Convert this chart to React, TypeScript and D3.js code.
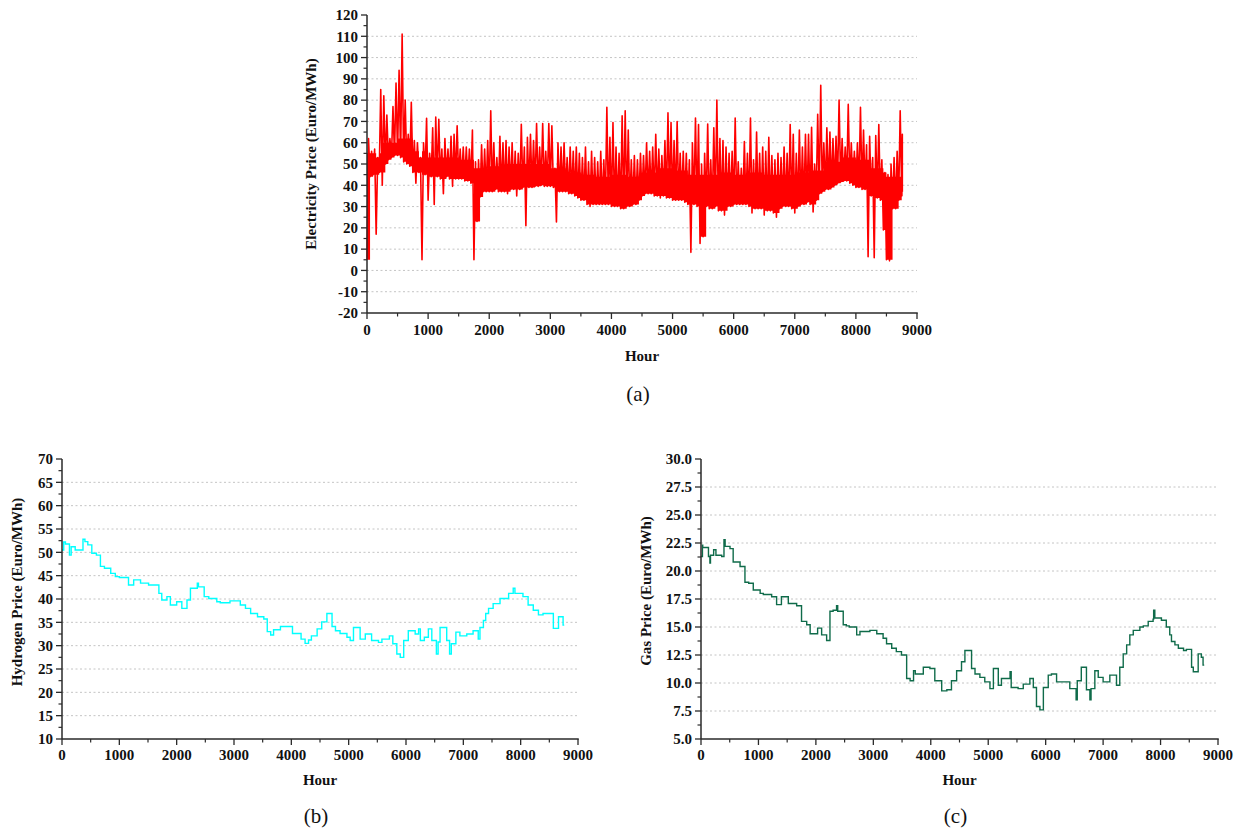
import React from 'react';
import * as d3 from 'd3';

// ---------- tick labels ----------
const hourTicks = [0, 1000, 2000, 3000, 4000, 5000, 6000, 7000, 8000, 9000];
const elecTicks = [-20, -10, 0, 10, 20, 30, 40, 50, 60, 70, 80, 90, 100, 110, 120];
const h2Ticks = [10, 15, 20, 25, 30, 35, 40, 45, 50, 55, 60, 65, 70];
const gasTicks = [5, 7.5, 10, 12.5, 15, 17.5, 20, 22.5, 25, 27.5, 30];

// ---------- electricity price: per 50-hour bin, lowest and highest hourly price ----------
const elecBinHours = d3.range(0, 8760, 50);
const elecLow = [
  5, 44, 45, 17, 46, 40, 50, 52, 53, 54,
  54, 53, 51, 50, 49, 46, 41, 46, 5, 45,
  33, 44, 31, 44, 43, 36, 44, 43, 39.5, 43,
  43, 43, 42, 42, 41, 5, 23, 34.5, 37, 37,
  37, 37, 38, 37, 37, 37, 36, 38, 38, 35,
  38, 39, 21, 39, 39, 39.5, 39.5, 40, 39.5, 39.5,
  39.5, 39, 22.8, 37, 37, 37, 36, 36, 35, 34,
  33, 33, 31, 30, 31, 31, 31, 31, 31, 31,
  30, 30, 30, 29, 29, 30, 30, 31, 31, 33,
  35, 36, 36, 36, 35, 35, 34, 35, 34, 34,
  33, 33, 33, 33, 32, 31, 8.5, 31, 30, 12.7,
  15.8, 30, 29, 29, 30, 28, 28, 26, 30, 30,
  31, 31, 31, 31, 31, 30, 27, 29, 29, 29,
  26, 28, 28, 27, 25, 29, 30, 30, 30, 29,
  27, 30, 31, 31, 32, 31, 27.5, 33, 36, 37,
  38, 38, 39, 40, 41, 41.5, 42, 42, 41, 40,
  39, 39, 38, 38, 6.4, 35, 6, 34, 33, 19,
  5, 4.5, 29, 29, 33, 35,
];
const elecHigh = [
  62, 56, 57, 53, 85, 82, 73, 62, 77, 88,
  94, 111, 80, 64, 79, 61, 60, 53, 60, 71.5,
  55, 67, 72, 71, 57, 62, 57, 63, 64, 68,
  57, 58, 58, 57, 66, 51, 52, 59, 57, 61,
  75, 60, 53, 63, 60, 61, 58, 60, 56, 55,
  68.7, 58, 62.5, 64, 61, 69, 58, 69, 56, 69,
  68, 48, 60, 58, 60, 53, 58, 56, 58, 55,
  53, 58, 51, 56, 53, 51, 56, 52, 76.6, 62.5,
  69.5, 58, 55, 72.6, 75, 66, 52, 54, 52, 55,
  54, 60, 56, 58, 64, 57, 54, 61, 74, 69.5,
  61, 70, 55, 56, 55, 52, 60, 71.6, 68.5, 50,
  55, 68.8, 52, 67, 80, 62, 61, 58, 55, 56,
  71.6, 51, 48, 60.6, 55, 71.6, 52, 65, 55, 58,
  56, 62.5, 54, 52, 55, 53, 58, 55, 68.5, 64,
  55, 66, 58, 64, 64, 67.3, 50, 73.4, 87, 60,
  67, 65, 62, 63, 80, 62, 58, 78, 60, 56,
  60, 76.6, 66, 59, 63, 53, 63.4, 68.5, 52, 46,
  45, 50, 53, 56, 75, 64,
];
// upper edge of the dense daily band, per 250-hour block
const elecBand = [
  55, 60, 62, 56, 53, 53, 52, 48, 49, 50,
  50, 50, 48, 46, 45, 44, 45, 44, 46, 48,
  47, 45, 45, 46, 45, 46, 45, 45, 46, 47,
  51, 53, 52, 48, 44, 46,
];

// ---------- hydrogen price: step changes (hour, value) ----------
const h2Hours = [
  0, 30, 60, 130, 160, 230, 366, 400, 450, 520, 600, 670, 740, 850, 930, 1000, 1160, 1250, 1370, 1510,
  1690, 1740, 1830, 1890, 2000, 2090, 2180, 2240, 2360, 2380, 2480, 2560, 2700, 2760, 2930, 3110, 3200, 3290, 3410, 3520,
  3580, 3640, 3690, 3810, 4020, 4170, 4240, 4300, 4350, 4450, 4530, 4620, 4710, 4770, 4850, 4970, 5026, 5084, 5200, 5290,
  5400, 5520, 5580, 5710, 5770, 5840, 5900, 5960, 6040, 6160, 6220, 6250, 6320, 6390, 6450, 6530, 6560, 6594, 6710, 6760,
  6790, 6870, 6940, 7060, 7170, 7260, 7290, 7350, 7390, 7440, 7520, 7640, 7790, 7870, 7900, 8040, 8130, 8220, 8310, 8390,
  8570, 8660, 8740, 8760,
];
const h2Values = [
  50.5, 52.2, 51.8, 49.4, 51.2, 50.5, 52.8, 52.3, 51.6, 49.8, 49.4, 47, 46.6, 45.5, 44.8, 44.6, 43, 44.1, 43.4, 43,
  41.2, 39.8, 40.5, 38.7, 39.4, 38, 39.8, 42.3, 43.4, 42.6, 40.5, 40.1, 39.4, 39.2, 39.6, 38.7, 38, 36.9, 36.2, 35.7,
  33, 32.3, 33.4, 34.1, 32.6, 31.4, 30.5, 31.2, 32.1, 33.6, 35.1, 36.9, 34.1, 33.2, 32.6, 31.8, 31.1, 33.9, 31.4, 32.5,
  31.1, 30.7, 31.4, 32.1, 30.4, 28.2, 27.5, 31.1, 33.2, 32.5, 33.6, 31.1, 31.8, 33.6, 31.1, 28.2, 30.8, 33.9, 31.1, 28.2,
  30.4, 32.9, 32.1, 32.5, 33.2, 31.4, 33.9, 35.4, 36.9, 38, 39, 40.1, 41.2, 42.3, 41.2, 40.5, 38.7, 37.6, 36.6, 36.9,
  33.7, 36.2, 34.4, 34.4,
];

// ---------- gas price: step changes (hour, value) ----------
const gasHours = [
  0, 25, 30, 130, 155, 165, 220, 260, 360, 400, 420, 505, 560, 680, 765, 830, 910, 1030, 1085, 1230,
  1316, 1400, 1520, 1665, 1750, 1840, 1900, 2030, 2100, 2187, 2245, 2300, 2360, 2380, 2476, 2530, 2580, 2710, 2767, 2940,
  3060, 3170, 3230, 3320, 3400, 3490, 3580, 3640, 3700, 3730, 3870, 3985, 4070, 4190, 4280, 4360, 4450, 4535, 4594, 4710,
  4770, 4855, 4940, 5030, 5090, 5175, 5230, 5380, 5400, 5520, 5610, 5725, 5785, 5840, 5900, 5960, 6045, 6100, 6190, 6420,
  6530, 6550, 6620, 6710, 6770, 6790, 6856, 6915, 7000, 7117, 7233, 7290, 7350, 7410, 7465, 7525, 7640, 7700, 7785, 7870,
  7880, 7900, 8015, 8100, 8160, 8190, 8250, 8310, 8400, 8450, 8540, 8570, 8655, 8710, 8740, 8760,
];
const gasValues = [
  21.3, 22.3, 22.1, 21.3, 20.7, 21.4, 21.9, 21.4, 21.3, 22.8, 22.2, 22, 20.8, 20.4, 19, 18.9, 18.3, 18, 17.9, 17.7,
  17, 17.7, 17.1, 16.9, 15.5, 15.2, 14.4, 14.9, 14.3, 13.8, 16.4, 16.5, 16.9, 16.4, 15.2, 15.1, 15, 14.3, 14.6, 14.7,
  14.4, 14, 13.5, 13.1, 12.8, 12.5, 10.4, 10.2, 11.1, 10.8, 11.4, 11.3, 10.2, 9.3, 9.4, 10.2, 11.1, 11.9, 12.9, 11.3,
  10.8, 10.5, 10.1, 9.5, 11.3, 9.8, 10.4, 11, 9.6, 9.5, 9.9, 10.4, 9.6, 7.9, 7.6, 9.6, 10.7, 10.8, 10.1, 9.5,
  8.5, 10.2, 11.4, 9.4, 8.5, 9.5, 11.1, 10.5, 10.1, 10.7, 9.8, 11.4, 12.6, 13.4, 14.3, 14.7, 15, 15.1, 15.5, 15.7,
  16.5, 15.8, 15.6, 15, 14.3, 13.7, 13.4, 13.1, 12.9, 13, 11.4, 11, 12.6, 12.3, 11.6, 11.6,
];

const FONT = '"Liberation Serif", "Times New Roman", Times, serif';
const AXIS = '#2a2a2a';
const GRID = '#c4c4c4';

type PanelProps = {
  x0: number; x1: number; yTop: number; yBot: number;
  yTicks: number[]; yFmt: (v: number) => string;
  ylabel: string; ylabelX: number; ylabelY: number;
  caption: string; captionY: number;
  titleY: number; tickLabelY: number;
  children: (x: d3.ScaleLinear<number, number>, y: d3.ScaleLinear<number, number>) => React.ReactNode;
};

function Panel(p: PanelProps) {
  const x = d3.scaleLinear().domain([0, 9000]).range([p.x0, p.x1]);
  const yDom = d3.extent(p.yTicks) as [number, number];
  const y = d3.scaleLinear().domain(yDom).range([p.yBot, p.yTop]);
  const yStep = p.yTicks[1] - p.yTicks[0];
  const yMinor = p.yTicks.slice(0, -1).map((t) => t + yStep / 2);
  const xMinor = hourTicks.slice(0, -1).map((t) => t + 500);
  const cx = (p.x0 + p.x1) / 2;
  return (
    <g>
      {p.yTicks.slice(1, -1).map((t) => (
        <line key={'g' + t} x1={p.x0} x2={p.x1} y1={y(t)} y2={y(t)} stroke={GRID} strokeWidth={1} strokeDasharray="2,2.5" />
      ))}
      <g>{p.children(x, y)}</g>
      <line x1={p.x0} x2={p.x0} y1={p.yTop} y2={p.yBot} stroke={AXIS} strokeWidth={1.5} />
      <line x1={p.x0} x2={p.x1 + 0.75} y1={p.yBot} y2={p.yBot} stroke={AXIS} strokeWidth={1.5} />
      {p.yTicks.map((t) => (
        <g key={'yt' + t}>
          <line x1={p.x0 - 6} x2={p.x0} y1={y(t)} y2={y(t)} stroke={AXIS} strokeWidth={1.3} />
          <text x={p.x0 - 9} y={y(t)} dy="0.35em" textAnchor="end" fontFamily={FONT} fontWeight="bold" fontSize={15} fill="#111">
            {p.yFmt(t)}
          </text>
        </g>
      ))}
      {yMinor.map((t) => (
        <line key={'ym' + t} x1={p.x0 - 3.5} x2={p.x0} y1={y(t)} y2={y(t)} stroke={AXIS} strokeWidth={1.2} />
      ))}
      {hourTicks.map((t) => (
        <g key={'xt' + t}>
          <line x1={x(t)} x2={x(t)} y1={p.yBot} y2={p.yBot + 6} stroke={AXIS} strokeWidth={1.3} />
          <text x={x(t)} y={p.tickLabelY} textAnchor="middle" fontFamily={FONT} fontWeight="bold" fontSize={15} fill="#111">
            {t}
          </text>
        </g>
      ))}
      {xMinor.map((t) => (
        <line key={'xm' + t} x1={x(t)} x2={x(t)} y1={p.yBot} y2={p.yBot + 3.5} stroke={AXIS} strokeWidth={1.2} />
      ))}
      <text x={cx} y={p.titleY} textAnchor="middle" fontFamily={FONT} fontWeight="bold" fontSize={15} fill="#111">Hour</text>
      <text
        transform={`translate(${p.ylabelX},${p.ylabelY}) rotate(-90)`}
        textAnchor="middle" dy="0.35em" fontFamily={FONT} fontWeight="bold" fontSize={15} fill="#111"
      >
        {p.ylabel}
      </text>
      <text x={cx - 4} y={p.captionY} textAnchor="middle" fontFamily={FONT} fontSize={21} fill="#111">{p.caption}</text>
    </g>
  );
}

export default function App() {
  const fmtInt = (v: number) => String(v);
  const fmt1 = d3.format('.1f');
  return (
    <svg width={1239} height={831} style={{ position: 'absolute', left: 0, top: 0, background: '#fff' }}>
      <Panel
        x0={367} x1={917} yTop={15} yBot={313}
        yTicks={elecTicks} yFmt={fmtInt}
        ylabel="Electricity Price (Euro/MWh)" ylabelX={311} ylabelY={154}
        caption="(a)" captionY={401} titleY={361} tickLabelY={335}
      >
        {(x, y) => {
          // dense daily band: from the bin's typical low (single-bin dips excluded) up to the band edge
          const bandAt = (h: number) => elecBand[Math.min(elecBand.length - 1, Math.floor(h / 250))];
          const n = elecBinHours.length;
          const bandRows = elecBinHours.map((h, i) => {
            const prev = elecLow[Math.max(0, i - 1)];
            const next = elecLow[Math.min(n - 1, i + 1)];
            const lo = Math.max(elecLow[i], Math.min(prev, next));
            const hi = Math.max(lo, Math.min(elecHigh[i], bandAt(h)));
            return { h, lo, hi };
          });
          bandRows.push({ h: 8760, lo: bandRows[n - 1].lo, hi: bandRows[n - 1].hi });
          const area = d3.area<{ h: number; lo: number; hi: number }>()
            .x((d) => x(d.h)).y0((d) => y(d.lo)).y1((d) => y(d.hi)).curve(d3.curveStepAfter);

          const pts: [number, number][] = [];
          elecBinHours.forEach((h, i) => {
            pts.push([h, elecLow[i]]);
            pts.push([Math.min(h + 25, 8760), elecHigh[i]]);
          });
          pts.push([8760, 37]);
          const line = d3.line<[number, number]>().x((d) => x(d[0])).y((d) => y(d[1]));
          return (
            <g>
              <path d={area(bandRows) || ''} fill="#ff0000" stroke="none" />
              <path d={line(pts) || ''} fill="none" stroke="#ff0000" strokeWidth={1.6} strokeLinejoin="round" />
            </g>
          );
        }}
      </Panel>
      <Panel
        x0={62} x1={578} yTop={459} yBot={739}
        yTicks={h2Ticks} yFmt={fmtInt}
        ylabel="Hydrogen Price (Euro/MWh)" ylabelX={17} ylabelY={592}
        caption="(b)" captionY={823} titleY={785} tickLabelY={760}
      >
        {(x, y) => {
          const line = d3.line<number>().x((d) => x(h2Hours[d])).y((d) => y(h2Values[d])).curve(d3.curveStepAfter);
          return <path d={line(d3.range(h2Hours.length)) || ''} fill="none" stroke="#00ffff" strokeWidth={1.4} />;
        }}
      </Panel>
      <Panel
        x0={701} x1={1218} yTop={459} yBot={739}
        yTicks={gasTicks} yFmt={(v) => fmt1(v)}
        ylabel="Gas Price (Euro/MWh)" ylabelX={646} ylabelY={591}
        caption="(c)" captionY={823} titleY={785} tickLabelY={760}
      >
        {(x, y) => {
          const line = d3.line<number>().x((d) => x(gasHours[d])).y((d) => y(gasValues[d])).curve(d3.curveStepAfter);
          return <path d={line(d3.range(gasHours.length)) || ''} fill="none" stroke="#0f6b4a" strokeWidth={1.4} />;
        }}
      </Panel>
    </svg>
  );
}
